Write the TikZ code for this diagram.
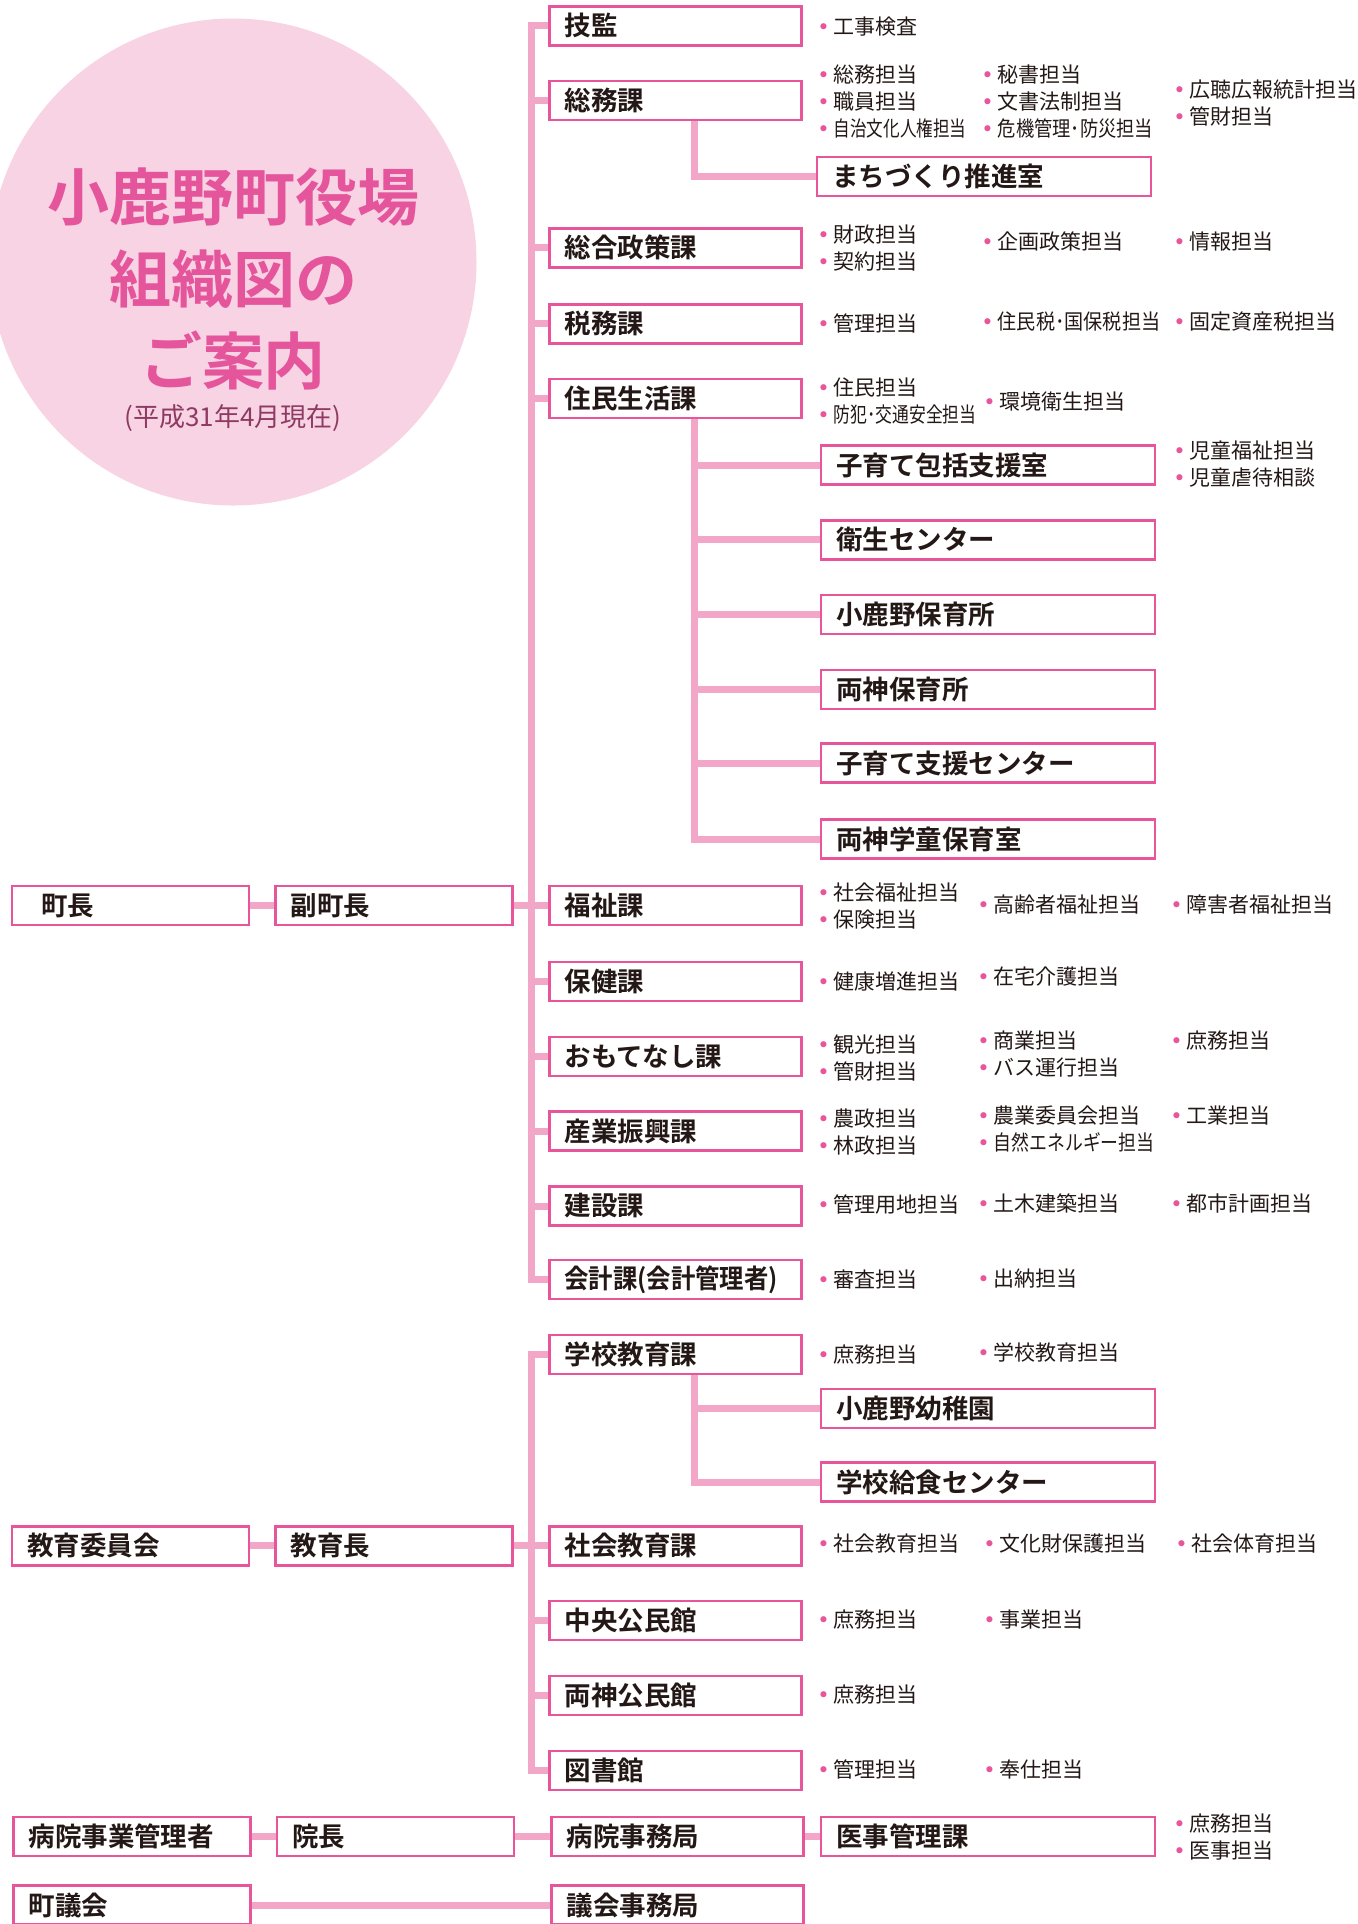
\documentclass[tikz,border=0pt]{standalone}
\usepackage{fontspec}
\setmainfont{Noto Sans CJK JP}[BoldFont = Noto Sans CJK JP Bold]
\newfontfamily\dotfont{DejaVu Sans}
\usepackage{graphicx}
\usepackage{tikz}
\usetikzlibrary{backgrounds}
\definecolor{boxpink}{HTML}{E8559B}
\definecolor{linepink}{HTML}{F2A6C8}
\definecolor{circlepink}{HTML}{F8D3E4}
\definecolor{titlepink}{HTML}{E4559C}
\definecolor{subpink}{HTML}{8E3A62}
\definecolor{textdark}{HTML}{231815}
\newcommand{\bul}{{\dotfont\textcolor{boxpink}{•}}\hspace{2pt}}
\newcommand{\narrow}[2]{\scalebox{#1}[1]{#2}}
\tikzstyle{ka} = [rectangle, draw = boxpink, fill = white, line width = 1.25pt, text width = 111pt, minimum height = 19.5pt, inner xsep = 7.5pt, inner ysep = 0pt, align = left, text = textdark, font = \bfseries\fontsize{13.25}{15}\selectfont]
\tikzstyle{shitsu} = [ka, text width = 152pt]
\tikzstyle{cho} = [ka, text width = 103.5pt]
\tikzstyle{tanto} = [anchor = west, inner sep = 0pt, align = left, text = textdark, font = \fontsize{10.5}{13.5}\selectfont]
\tikzstyle{link} = [draw = linepink, line width = 3.5pt]

\begin{document}
\begin{tikzpicture}[x = 0.5pt, y = -0.5pt]
    \useasboundingbox (0, 0) rectangle (1357, 1924);
    \clip (0, 0) rectangle (1357, 1924);

    \fill[circlepink] (233, 262) circle (121.75pt);
    \node[align = center, text = titlepink, font = \bfseries\fontsize{31}{41}\selectfont] (title) at (233, 279) {小鹿野町役場\\組織図の\\ご案内};
    \node[text = subpink, font = \fontsize{13}{15}\selectfont] (date) at (233, 418) {(平成31年4月現在)};

    \coordinate (trunk) at (531, 0);
    \coordinate (sub) at (694, 0);

    \node[ka] (giken) at (675.5, 25.8) {技監};
    \node[ka] (somu) at (675.5, 100.6) {総務課};
    \node[shitsu] (machi) at (984, 176.7) {まちづくり推進室};
    \node[ka] (sogo) at (675.5, 247.8) {総合政策課};
    \node[ka] (zeimu) at (675.5, 323.9) {税務課};
    \node[ka] (jumin) at (675.5, 398.7) {住民生活課};
    \node[shitsu] (hokatsu) at (988, 465) {子育て包括支援室};
    \node[shitsu] (eisei) at (988, 539.8) {衛生センター};
    \node[shitsu] (ogano) at (988, 614.7) {小鹿野保育所};
    \node[shitsu] (ryokami) at (988, 689.5) {両神保育所};
    \node[shitsu] (shien) at (988, 763.1) {子育て支援センター};
    \node[shitsu] (gakudo) at (988, 839.2) {両神学童保育室};
    \node[cho] (chocho) at (130.5, 905.5) {\hspace*{7pt}町長};
    \node[cho] (fukucho) at (394, 905.5) {副町長};
    \node[ka] (fukushi) at (675.5, 905.5) {福祉課};
    \node[ka] (hoken) at (675.5, 981.5) {保健課};
    \node[ka] (omotenashi) at (675.5, 1056.4) {おもてなし課};
    \node[ka] (sangyo) at (675.5, 1131.2) {産業振興課};
    \node[ka] (kensetsu) at (675.5, 1206) {建設課};
    \node[ka] (kaikei) at (675.5, 1279.7) {\narrow{0.92}{会計課(会計管理者)}};

    \node[ka] (gakko) at (675.5, 1354.5) {学校教育課};
    \node[shitsu] (yochien) at (988, 1408.5) {小鹿野幼稚園};
    \node[shitsu] (kyushoku) at (988, 1482.1) {学校給食センター};
    \node[cho] (iinkai) at (130.5, 1545.9) {教育委員会};
    \node[cho] (kyoikucho) at (394, 1545.9) {教育長};
    \node[ka] (shakai) at (675.5, 1545.9) {社会教育課};
    \node[ka] (chuo) at (675.5, 1620.7) {中央公民館};
    \node[ka] (ryokamik) at (675.5, 1695.6) {両神公民館};
    \node[ka] (tosho) at (675.5, 1770.4) {図書館};

    \node[cho] (byoin) at (132, 1836.7) {病院事業管理者};
    \node[cho] (incho) at (395.5, 1836.7) {院長};
    \node[ka] (jimukyoku) at (677.5, 1836.7) {病院事務局};
    \node[shitsu] (iji) at (988, 1836.7) {医事管理課};
    \node[cho] (gikai) at (132, 1905) {町議会};
    \node[ka] (gikaijim) at (677.5, 1905) {議会事務局};

    \node[tanto] (giken-a) at (817, 27) {\bul 工事検査};
    \node[tanto] (somu-a) at (817, 101.8) {\bul 総務担当\\\bul 職員担当\\\bul\narrow{0.79}{自治文化人権担当}};
    \node[tanto] (somu-b) at (981, 101.8) {\bul 秘書担当\\\bul 文書法制担当\\\bul\narrow{0.87}{危機管理･防災担当}};
    \node[tanto] (somu-c) at (1173, 103) {\bul 広聴広報統計担当\\\bul 管財担当};
    \node[tanto] (sogo-a) at (817, 247.8) {\bul 財政担当\\\bul 契約担当};
    \node[tanto] (sogo-b) at (981, 241.7) {\bul 企画政策担当};
    \node[tanto] (sogo-c) at (1173, 241.7) {\bul 情報担当};
    \node[tanto] (zeimu-a) at (817, 323.9) {\bul 管理担当};
    \node[tanto] (zeimu-b) at (981, 321.5) {\bul\narrow{0.91}{住民税･国保税担当}};
    \node[tanto] (zeimu-c) at (1173, 321.5) {\bul 固定資産税担当};
    \node[tanto] (jumin-a) at (817, 401.2) {\bul 住民担当\\\bul\narrow{0.8}{防犯･交通安全担当}};
    \node[tanto] (jumin-b) at (983, 401.2) {\bul 環境衛生担当};
    \node[tanto] (hokatsu-c) at (1173, 463.8) {\bul 児童福祉担当\\\bul 児童虐待相談};
    \node[tanto] (fukushi-a) at (817, 906) {\bul 社会福祉担当\\\bul 保険担当};
    \node[tanto] (fukushi-b) at (977, 904.2) {\bul 高齢者福祉担当};
    \node[tanto] (fukushi-c) at (1170, 904.2) {\bul 障害者福祉担当};
    \node[tanto] (hoken-a) at (817, 981.5) {\bul 健康増進担当};
    \node[tanto] (hoken-b) at (977, 976.6) {\bul 在宅介護担当};
    \node[tanto] (omote-a) at (817, 1057.6) {\bul 観光担当\\\bul 管財担当};
    \node[tanto] (omote-b) at (977, 1053.9) {\bul 商業担当\\\bul バス運行担当};
    \node[tanto] (omote-c) at (1170, 1040.4) {\bul 庶務担当};
    \node[tanto] (sangyo-a) at (817, 1131.8) {\bul 農政担当\\\bul 林政担当};
    \node[tanto] (sangyo-b) at (977, 1128.7) {\bul 農業委員会担当\\\bul\narrow{0.85}{自然エネルギー担当}};
    \node[tanto] (sangyo-c) at (1170, 1115.3) {\bul 工業担当};
    \node[tanto] (kensetsu-a) at (817, 1204.8) {\bul 管理用地担当};
    \node[tanto] (kensetsu-b) at (977, 1203.6) {\bul 土木建築担当};
    \node[tanto] (kensetsu-c) at (1170, 1203.6) {\bul 都市計画担当};
    \node[tanto] (kaikei-a) at (817, 1279.7) {\bul 審査担当};
    \node[tanto] (kaikei-b) at (977, 1278.4) {\bul 出納担当};
    \node[tanto] (gakko-a) at (817, 1354.5) {\bul 庶務担当};
    \node[tanto] (gakko-b) at (977, 1352) {\bul 学校教育担当};
    \node[tanto] (shakai-a) at (817, 1543.5) {\bul 社会教育担当};
    \node[tanto] (shakai-b) at (983, 1543.5) {\bul 文化財保護担当};
    \node[tanto] (shakai-c) at (1175, 1543.5) {\bul 社会体育担当};
    \node[tanto] (chuo-a) at (817, 1619.5) {\bul 庶務担当};
    \node[tanto] (chuo-b) at (983, 1619.5) {\bul 事業担当};
    \node[tanto] (ryokamik-a) at (817, 1694.4) {\bul 庶務担当};
    \node[tanto] (tosho-a) at (817, 1769.2) {\bul 管理担当};
    \node[tanto] (tosho-b) at (983, 1769.2) {\bul 奉仕担当};
    \node[tanto] (iji-c) at (1173, 1837.3) {\bul 庶務担当\\\bul 医事担当};

    \begin{pgfonlayer}{background}
        \draw[link] (giken.west) -| (trunk |- kaikei.west) -- (kaikei.west);
        \foreach \n in {somu, sogo, zeimu, jumin, fukushi, hoken, omotenashi, sangyo, kensetsu}
            \draw[link] (\n.west) -- (\n.west -| trunk);
        \draw[link] (chocho.east) -- (fukucho.west);
        \draw[link] (fukucho.east) -- (fukushi.west);
        \draw[link] (somu.south -| sub) |- (machi.west);
        \draw[link] (jumin.south -| sub) |- (gakudo.west);
        \foreach \n in {hokatsu, eisei, ogano, ryokami, shien}
            \draw[link] (\n.west) -- (\n.west -| sub);

        \draw[link] (gakko.west) -| (trunk |- tosho.west) -- (tosho.west);
        \foreach \n in {chuo, ryokamik}
            \draw[link] (\n.west) -- (\n.west -| trunk);
        \draw[link] (iinkai.east) -- (kyoikucho.west);
        \draw[link] (kyoikucho.east) -- (shakai.west);
        \draw[link] (gakko.south -| sub) |- (kyushoku.west);
        \draw[link] (yochien.west) -- (yochien.west -| sub);

        \draw[link] (byoin.east) -- (incho.west);
        \draw[link] (incho.east) -- (jimukyoku.west);
        \draw[link] (jimukyoku.east) -- (iji.west);
        \draw[link] (gikai.east) -- (gikaijim.west);
    \end{pgfonlayer}
\end{tikzpicture}
\end{document}
